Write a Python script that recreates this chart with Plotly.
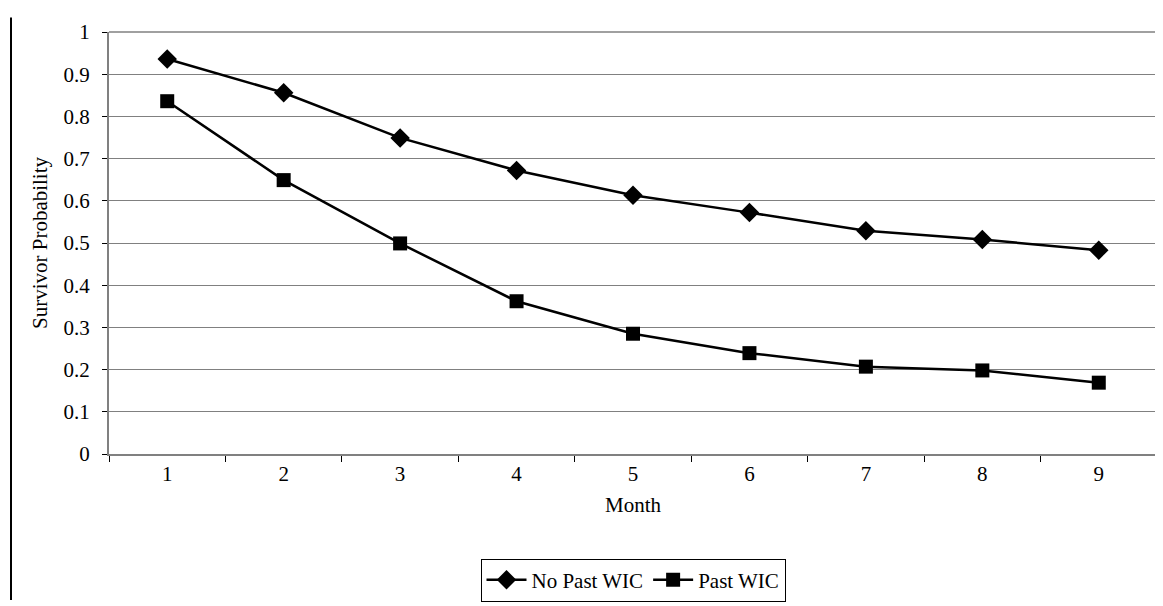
import plotly.graph_objects as go

months = ["1", "2", "3", "4", "5", "6", "7", "8", "9"]
no_past_wic = [0.936, 0.856, 0.749, 0.672, 0.613, 0.572, 0.529, 0.508, 0.483]
past_wic = [0.836, 0.649, 0.499, 0.362, 0.285, 0.239, 0.207, 0.198, 0.169]
y_ticks = [0, 0.1, 0.2, 0.3, 0.4, 0.5, 0.6, 0.7, 0.8, 0.9, 1]
y_tick_text = ["0", "0.1", "0.2", "0.3", "0.4", "0.5", "0.6", "0.7", "0.8", "0.9", "1"]

W, H = 1163, 606
ml, mr, mt, mb = 101, 14, 15, 152
font = "Liberation Serif"
fs = 21

fig = go.Figure()
fig.add_trace(go.Scatter(
    x=months, y=no_past_wic, name="No Past WIC", mode="lines+markers",
    line=dict(color="black", width=2.5),
    marker=dict(symbol="diamond", size=15, color="black"),
))
fig.add_trace(go.Scatter(
    x=months, y=past_wic, name="Past WIC", mode="lines+markers",
    line=dict(color="black", width=2.5),
    marker=dict(symbol="square", size=14, color="black"),
))

fig.update_layout(
    width=W, height=H,
    margin=dict(l=ml, r=mr, t=mt, b=mb, pad=0),
    paper_bgcolor="white", plot_bgcolor="white",
    font=dict(family=font, size=fs, color="black"),
    showlegend=True,
    legend=dict(
        orientation="h", x=0.5, xanchor="center", y=-0.248, yanchor="top",
        bordercolor="black", borderwidth=1, bgcolor="white",
        font=dict(family=font, size=fs, color="black"),
        itemwidth=40, tracegroupgap=0, itemsizing="trace",
    ),
    xaxis=dict(
        type="category", categoryorder="array", categoryarray=months,
        tickson="boundaries", ticks="outside", ticklen=6, tickcolor="black",
        showgrid=False, showline=True, linecolor="#808080", linewidth=2,
        mirror=False, zeroline=False,
        title=dict(text="Month", font=dict(family=font, size=fs), standoff=12),
        tickfont=dict(family=font, size=fs),
        range=[-0.5, 8.5],
    ),
    yaxis=dict(
        range=[0, 1], tickvals=y_ticks, ticktext=y_tick_text,
        ticks="outside", ticklen=5, tickcolor="black",
        showgrid=True, gridcolor="#808080", gridwidth=1,
        showline=True, linecolor="#808080", linewidth=2,
        zeroline=False,
        title=dict(text="Survivor Probability", font=dict(family=font, size=fs), standoff=10),
        tickfont=dict(family=font, size=fs),
        ticklabelstandoff=8,
    ),
    shapes=[
        dict(type="line", xref="paper", yref="paper", x0=0, x1=1, y0=1, y1=1,
             line=dict(color="#a0a0a0", width=2)),
        dict(type="line", xref="paper", yref="paper", x0=1, x1=1, y0=0, y1=1,
             line=dict(color="#a0a0a0", width=2)),
        dict(type="line", xref="paper", yref="paper",
             x0=(3 - ml) / (W - ml - mr), x1=(3 - ml) / (W - ml - mr),
             y0=-(mb) / (H - mt - mb), y1=1 + mt / (H - mt - mb),
             line=dict(color="black", width=2)),
    ],
)

fig.write_html("out.html")
